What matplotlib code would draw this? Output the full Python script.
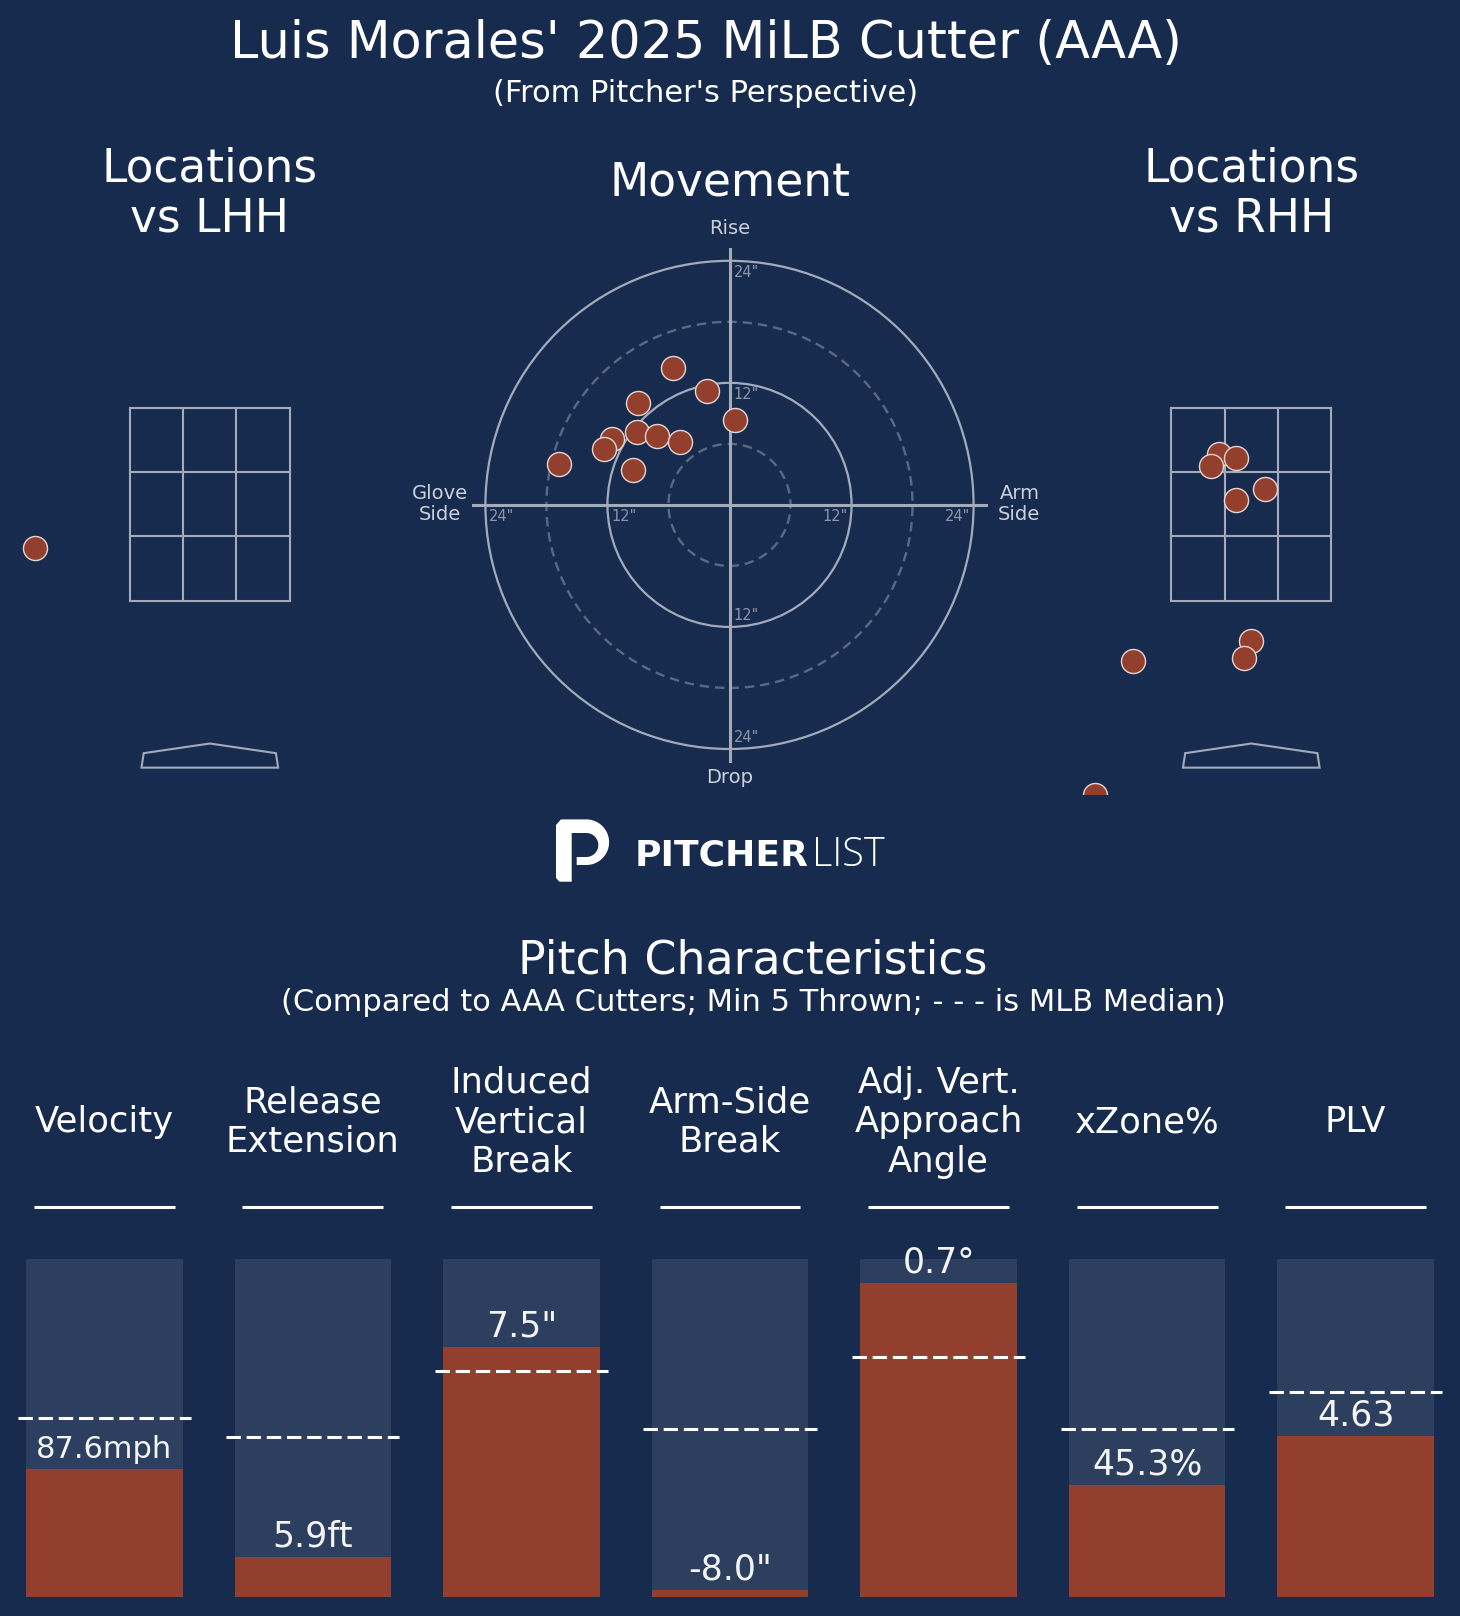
import numpy as np
import matplotlib
matplotlib.use("Agg")
import matplotlib.pyplot as plt
from matplotlib.patches import Polygon, Circle

W, H = 1460, 1616
DPI = 100

BG = "#172b4e"
BAR_BG = "#2d3f5f"
RED = "#933f2d"
LINE = "#a3abbb"
DIM = "#5a6983"
TXT = "#ffffff"
SOFT = "#cbd0d9"
TICK = "#8c96a9"

# movement, inches (negative = glove side)
mov_x = [-5.6, -2.2, -9.0, 0.55, -9.1, -7.15, -4.9, -11.6, -12.3, -16.75, -9.5]
mov_y = [13.45, 11.2, 10.0, 8.35, 7.2, 6.75, 6.2, 6.45, 5.5, 4.0, 3.4]

# locations, feet
lhh_x = [-1.81]
lhh_z = [2.05]
rhh_x = [-0.33, -0.42, -0.16, 0.14, -0.16, 0.0, -0.08, -1.23, -1.62]
rhh_z = [3.02, 2.90, 2.98, 2.66, 2.54, 1.08, 0.91, 0.88, -0.51]

# pitch characteristics
metrics = ["Velocity", "Release\nExtension", "Induced\nVertical\nBreak", "Arm-Side\nBreak",
           "Adj. Vert.\nApproach\nAngle", "xZone%", "PLV"]
values = ["87.6mph", "5.9ft", '7.5"', '-8.0"', "0.7°", "45.3%", "4.63"]
pctl = [0.379, 0.119, 0.739, 0.022, 0.929, 0.332, 0.476]
median = [0.530, 0.472, 0.670, 0.498, 0.709, 0.498, 0.606]

ZONE_X = [-0.83, 0.83]
ZONE_Z = [1.5, 3.5]
PLATE = [(-0.708, -0.23), (-0.685, -0.08), (0.0, 0.02), (0.685, -0.08), (0.708, -0.23)]


def px_axes(fig, left, top, width, height):
    ax = fig.add_axes([left / W, 1 - (top + height) / H, width / W, height / H])
    ax.set_facecolor("none")
    ax.axis("off")
    return ax


def ftext(fig, x, y, s, **kw):
    return fig.text(x / W, 1 - y / H, s, **kw)


def location_axes(fig, cx, xs, zs, label):
    scale = 96.5
    xlim = (-2.15, 2.15)
    ylim = (-0.5, 4.6)
    top = 600.7 - (ylim[1] - ZONE_Z[0]) * scale
    ax = px_axes(fig, cx + xlim[0] * scale, top, (xlim[1] - xlim[0]) * scale,
                 (ylim[1] - ylim[0]) * scale)
    ax.set_xlim(*xlim)
    ax.set_ylim(*ylim)
    xg = np.linspace(ZONE_X[0], ZONE_X[1], 4)
    zg = np.linspace(ZONE_Z[0], ZONE_Z[1], 4)
    for v in xg:
        ax.plot([v, v], ZONE_Z, color=LINE, lw=1.5, zorder=1)
    for v in zg:
        ax.plot(ZONE_X, [v, v], color=LINE, lw=1.5, zorder=1)
    ax.add_patch(Polygon(PLATE, closed=True, fill=False, edgecolor=LINE, lw=1.5))
    ax.scatter(xs, zs, s=300, color=RED, edgecolor="#e6d6d2", linewidth=1, zorder=3)
    ftext(fig, cx, 181.5, "Locations", ha="center", va="baseline", fontsize=32.8, color=TXT)
    ftext(fig, cx, 231.5, label, ha="center", va="baseline", fontsize=32.8, color=TXT)
    return ax


fig = plt.figure(figsize=(W / DPI, H / DPI), dpi=DPI, facecolor=BG)

ftext(fig, 706, 58.3, "Luis Morales' 2025 MiLB Cutter (AAA)", ha="center", va="baseline",
      fontsize=36.6, color=TXT)
ftext(fig, 706, 101.7, "(From Pitcher's Perspective)", ha="center", va="baseline",
      fontsize=22, color=TXT)

location_axes(fig, 209.8, lhh_x, lhh_z, "vs LHH")
location_axes(fig, 1251.3, rhh_x, rhh_z, "vs RHH")

# movement plot
scale = 10.17
cx, cy = 729.5, 504.9
ax = px_axes(fig, cx - 32 * scale, cy - 30 * scale, 64 * scale, 60 * scale)
ax.set_xlim(-32, 32)
ax.set_ylim(-30, 30)
for r, dashed in [(6, True), (12, False), (18, True), (24, False)]:
    if dashed:
        ax.add_patch(Circle((0, 0), r, fill=False, edgecolor=DIM, lw=1.7,
                            linestyle=(0, (4, 2.5))))
    else:
        ax.add_patch(Circle((0, 0), r, fill=False, edgecolor=LINE, lw=1.6))
ax.plot([-25.2, 25.2], [0, 0], color=LINE, lw=2.2, zorder=2)
ax.plot([0, 0], [-25.2, 25.2], color=LINE, lw=2.2, zorder=2)
for r in [12, 24]:
    ax.text(0.4, r - 0.4, f'{r}"', ha="left", va="top", fontsize=10.5, color=TICK)
    ax.text(0.4, -r + 0.4, f'{r}"', ha="left", va="bottom", fontsize=10.5, color=TICK)
    ax.text(-r + 0.35, -0.4, f'{r}"', ha="left", va="top", fontsize=10.5, color=TICK)
    ax.text(r - 0.35, -0.4, f'{r}"', ha="right", va="top", fontsize=10.5, color=TICK)
ax.text(0, 27.2, "Rise", ha="center", va="center", fontsize=14, color=SOFT)
ax.text(0, -26.8, "Drop", ha="center", va="center", fontsize=14, color=SOFT)
ax.text(-28.5, 0.1, "Glove\nSide", ha="center", va="center", fontsize=14, color=SOFT,
        linespacing=1.1)
ax.text(28.5, 0.1, "Arm\nSide", ha="center", va="center", fontsize=14, color=SOFT,
        linespacing=1.1)
ax.scatter(mov_x, mov_y, s=300, color=RED, edgecolor="#e6d6d2", linewidth=1, zorder=3)
ftext(fig, cx, 195, "Movement", ha="center", va="baseline", fontsize=32.8, color=TXT)

# logo
lg = px_axes(fig, 0, 0, W, H)
lg.set_xlim(0, W)
lg.set_ylim(H, 0)
bx, by, R, r_in, by_in = 586.3, 842.2, 22.8, 12.0, 845.0
t = np.linspace(-np.pi / 2, np.pi / 2, 40)
outer = list(zip(bx + R * np.cos(t), by + R * np.sin(t)))
inner = list(zip(bx + r_in * np.cos(t[::-1]), by_in + r_in * np.sin(t[::-1])))
pts = ([(556.0, 825.0), (561.0, 819.4)] + outer
       + [(576.7, 865.0), (576.7, 857.0)] + inner
       + [(571.7, 833.0), (571.7, 881.7), (559.5, 881.7), (556.0, 878.0)])
lg.add_patch(Polygon(pts, closed=True, facecolor="white", edgecolor="none"))
lg.text(635, 865.7, "PITCHER", ha="left", va="baseline", fontsize=26, fontweight="bold",
        color="white")
lg.text(812, 865.7, "LIST", ha="left", va="baseline", fontsize=28.5, fontweight="light",
        color="white", family=["Open Sans", "DejaVu Sans"])

# pitch characteristics
ftext(fig, 752.5, 974, "Pitch Characteristics", ha="center", va="baseline", fontsize=33,
      color=TXT)
ftext(fig, 753, 1010.7, "(Compared to AAA Cutters; Min 5 Thrown; - - - is MLB Median)",
      ha="center", va="baseline", fontsize=22, color=TXT)

bx_ = px_axes(fig, 0, 1259, W, 338)
n = len(metrics)
x = np.arange(n)
bx_.set_xlim(-0.5, n - 0.5)
bx_.set_ylim(0, 1)
bx_.bar(x, np.ones(n), width=0.75, color=BAR_BG, zorder=1)
bx_.bar(x, pctl, width=0.75, color=RED, zorder=2)
bx_.hlines(median, x - 0.415, x + 0.415, colors="white", lw=2.2,
           linestyles=[(0, (4.7, 1.9))], zorder=3)
bx_.hlines(np.full(n, 1.155), x - 0.338, x + 0.338, colors="white", lw=2.2, clip_on=False)
for i in range(n):
    size = 22 if len(values[i]) > 5 else 25
    bx_.text(x[i], pctl[i] + 0.031, values[i], ha="center", va="baseline", fontsize=size,
             color="#f4f4f4", zorder=4)
    bx_.text(x[i], 1.405, metrics[i], ha="center", va="center", fontsize=25.5, color=TXT,
             clip_on=False)

fig.savefig("out.png", dpi=DPI, facecolor=BG)
